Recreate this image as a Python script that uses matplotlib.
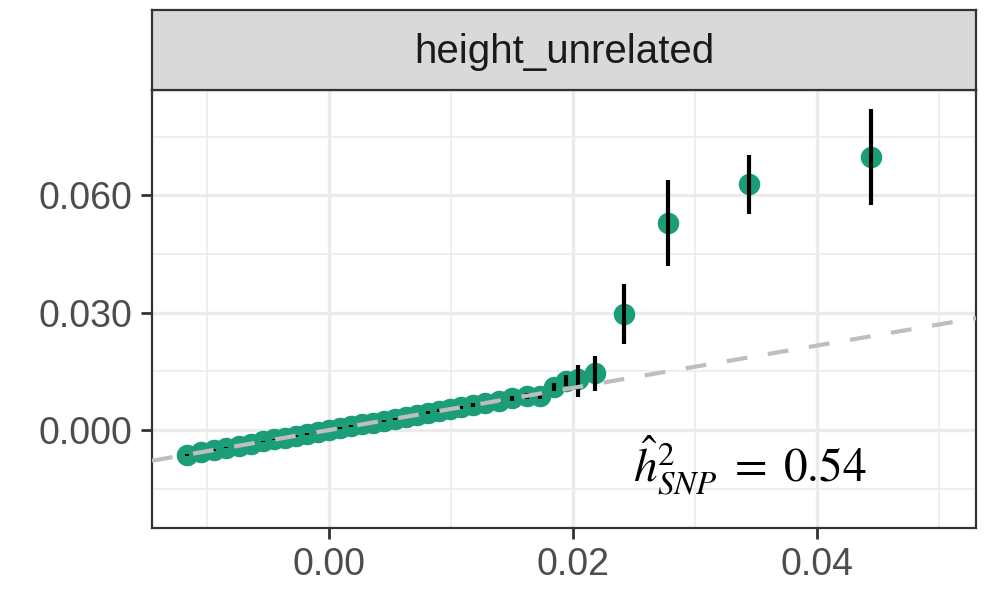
import matplotlib
matplotlib.use("Agg")
import matplotlib.pyplot as plt
from matplotlib.ticker import FixedLocator

plt.rcParams["font.family"] = ["Liberation Sans", "DejaVu Sans"]
plt.rcParams["mathtext.fontset"] = "stix"

panel = "height_unrelated"
h2_snp = 0.54

# expected vs observed effects, with interval bounds
x_exp = [-0.0116, -0.0105, -0.0094, -0.0084, -0.0074, -0.0064, -0.0054, -0.0045,
         -0.0036, -0.0027, -0.0018, -0.0009, 0.0000, 0.0009, 0.0018, 0.0027,
         0.0036, 0.0045, 0.0054, 0.0063, 0.0072, 0.0081, 0.0090, 0.0099,
         0.0108, 0.0118, 0.0128, 0.0139, 0.0150, 0.0162, 0.0173,
         0.0184, 0.0194, 0.0204, 0.0218, 0.0242, 0.0278, 0.0344, 0.0444]
y_obs = [-0.0063, -0.0057, -0.0051, -0.0045, -0.0040, -0.0035, -0.0029, -0.0024,
         -0.0019, -0.0015, -0.0010, -0.0005, 0.0000, 0.0005, 0.0010, 0.0015,
         0.0019, 0.0024, 0.0029, 0.0034, 0.0039, 0.0044, 0.0049, 0.0053,
         0.0058, 0.0064, 0.0069, 0.0075, 0.0081, 0.0087, 0.0088,
         0.0110, 0.0126, 0.0130, 0.0145, 0.0297, 0.0529, 0.0628, 0.0697]
y_lo = [-0.0065, -0.0059, -0.0053, -0.0047, -0.0042, -0.0037, -0.0031, -0.0026,
        -0.0021, -0.0017, -0.0012, -0.0007, -0.0002, 0.0003, 0.0008, 0.0012,
        0.0016, 0.0021, 0.0026, 0.0031, 0.0035, 0.0040, 0.0045, 0.0049,
        0.0054, 0.0059, 0.0064, 0.0070, 0.0075, 0.0080, 0.0079,
        0.0099, 0.0112, 0.0085, 0.0099, 0.0220, 0.0420, 0.0552, 0.0575]
y_hi = [-0.0061, -0.0055, -0.0049, -0.0043, -0.0038, -0.0033, -0.0027, -0.0022,
        -0.0017, -0.0013, -0.0008, -0.0003, 0.0002, 0.0007, 0.0012, 0.0018,
        0.0022, 0.0027, 0.0032, 0.0037, 0.0043, 0.0048, 0.0053, 0.0057,
        0.0062, 0.0069, 0.0074, 0.0080, 0.0087, 0.0094, 0.0096,
        0.0121, 0.0140, 0.0166, 0.0189, 0.0374, 0.0639, 0.0703, 0.0820]

x_ticks = [0.00, 0.02, 0.04]
x_minor = [-0.01, 0.01, 0.03, 0.05]
y_ticks = [0.000, 0.030, 0.060]
y_minor = [-0.015, 0.015, 0.045, 0.075]

fig = plt.figure(figsize=(10.02, 5.90), dpi=100)
ax = fig.add_axes([0.1517, 0.1059, 0.8223, 0.7416])
strip = fig.add_axes([0.1517, 0.8475, 0.8223, 0.1355])

ax.set_xlim(-0.0145, 0.0530)
ax.set_ylim(-0.0249, 0.0869)

ax.xaxis.set_major_locator(FixedLocator(x_ticks))
ax.xaxis.set_minor_locator(FixedLocator(x_minor))
ax.yaxis.set_major_locator(FixedLocator(y_ticks))
ax.yaxis.set_minor_locator(FixedLocator(y_minor))
ax.set_xticklabels([f"{v:.2f}" for v in x_ticks])
ax.set_yticklabels([f"{v:.3f}" for v in y_ticks])

ax.grid(which="major", color="#EBEBEB", lw=2.4, zorder=0)
ax.grid(which="minor", color="#EBEBEB", lw=1.2, zorder=0)
ax.set_axisbelow(True)

ax.tick_params(which="major", length=8, width=2, color="#333333",
               labelsize=27, labelcolor="#4D4D4D", pad=6)
ax.tick_params(which="minor", length=0)
for s in ax.spines.values():
    s.set_color("#333333")
    s.set_linewidth(1.6)

ax.plot(x_exp, y_obs, "o", color="#1B9E77", ms=15.5, mec="none", zorder=2)
ax.vlines(x_exp, y_lo, y_hi, color="black", lw=3, zorder=3)
ax.axline((0, 0), slope=h2_snp, color="#BEBEBE", lw=3,
          ls=(0, (5, 5)), zorder=4)

ax.text(0.0249, -0.0133, r"$\hat{h}^2_{SNP}\;=\;$" + f"${h2_snp:.2f}$",
        fontsize=34, color="black", ha="left", va="baseline", zorder=5)

strip.set_facecolor("#D9D9D9")
strip.set_xticks([])
strip.set_yticks([])
for s in strip.spines.values():
    s.set_color("#333333")
    s.set_linewidth(1.6)
strip.text(0.5, 0.47, panel, transform=strip.transAxes, ha="center",
           va="center", fontsize=29, color="#1A1A1A")

fig.savefig("out.png", dpi=100)
